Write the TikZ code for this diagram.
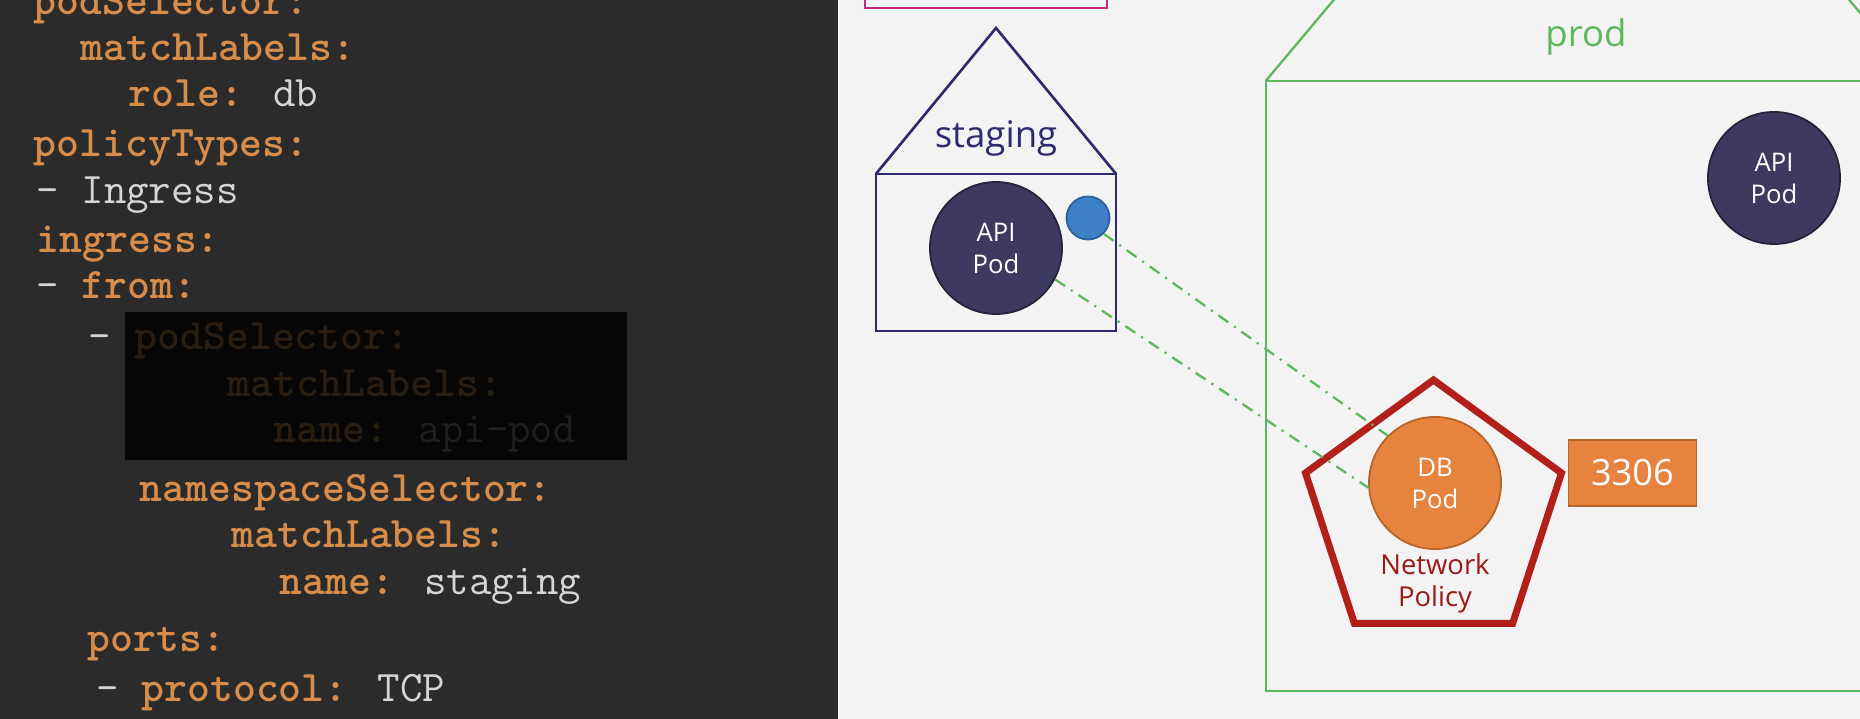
\documentclass[tikz,border=0pt]{standalone}
\usepackage{fontspec}
\setmainfont{Open Sans}
\usetikzlibrary{positioning,shapes.geometric}
\definecolor{panelbg}{HTML}{2B2B2B}
\definecolor{keyc}{HTML}{D88C4A}
\definecolor{valc}{HTML}{D6D6D6}
\definecolor{hidebg}{HTML}{060606}
\definecolor{hidekey}{HTML}{2A1D12}
\definecolor{hideval}{HTML}{1F1F1F}
\definecolor{slidebg}{HTML}{F3F3F3}
\definecolor{nspink}{HTML}{C42A80}
\definecolor{nsnavy}{HTML}{2D2A70}
\definecolor{nsgreen}{HTML}{5CB85C}
\definecolor{podfill}{HTML}{3E3A5F}
\definecolor{podline}{HTML}{25223B}
\definecolor{dotfill}{HTML}{3C7FC6}
\definecolor{dotline}{HTML}{2B5E9A}
\definecolor{polred}{HTML}{B3201B}
\definecolor{poltext}{HTML}{9A1A15}
\definecolor{dbfill}{HTML}{E5833F}
\definecolor{dbline}{HTML}{B86428}
\newcommand{\ykey}[1]{\textcolor{keyc}{\bfseries #1}}
\newcommand{\yval}[1]{\textcolor{valc}{#1}}
\newcommand{\hval}[1]{\textcolor{hideval}{\mdseries #1}}
\tikzset{
  code/.style={anchor=base west,inner sep=0pt,text=valc,
    font=\ttfamily\fontsize{12.4}{14}\selectfont},
  hidden/.style={code,text=hidekey,font=\ttfamily\bfseries\fontsize{12.4}{14}\selectfont},
  nslabel/.style={anchor=base,inner sep=0pt,font=\fontsize{10.4}{12}\selectfont},
  nsbox/.style={draw,inner sep=0pt,outer sep=0pt},
  pod/.style={circle,draw=podline,fill=podfill,line width=0.5pt,
    minimum size=1.32cm,inner sep=0pt,text=white,align=center,
    font=\fontsize{7.3}{9.1}\selectfont},
  dbpod/.style={pod,draw=dbline,fill=dbfill},
  portdot/.style={circle,draw=dotline,fill=dotfill,line width=0.5pt,
    minimum size=0.43cm,inner sep=0pt},
  policy/.style={regular polygon,regular polygon sides=5,draw=polred,
    line width=2pt,minimum size=2.69cm,inner sep=0pt,outer sep=0pt},
  port/.style={rectangle,draw=dbline,fill=dbfill,line width=0.5pt,
    minimum width=1.28cm,minimum height=0.66cm,inner sep=0pt,text=white,
    font=\fontsize{10.3}{12}\selectfont},
  traffic/.style={draw=nsgreen,line width=0.65pt,
    dash pattern=on 3.4pt off 2pt on 0.6pt off 2pt}
}

\begin{document}
\begin{tikzpicture}[x=0.01cm,y=-0.01cm]
  \useasboundingbox (0,0) rectangle (1860,719);
  \clip (0,0) rectangle (1860,719);
  \fill[slidebg] (838,0) rectangle (1860,719);
  \fill[panelbg] (0,0) rectangle (838,719);

  % yaml
  \node[code] (l1) at (33,15) {\ykey{podSelector:}};
  \node[code] (l2) at (80,61) {\ykey{matchLabels:}};
  \node[code] (l3) at (128,107) {\ykey{role:} db};
  \node[code] (l4) at (33,157) {\ykey{policyTypes:}};
  \node[code] (l5) at (36,204) {- Ingress};
  \node[code] (l6) at (36,253) {\ykey{ingress:}};
  \node[code] (l7) at (36,299) {- \ykey{from:}};
  \fill[hidebg] (125,312) rectangle (627,460);
  \node[code] (l8) at (88,350) {-};
  \node[hidden] (l8b) at (134,350) {podSelector:};
  \node[hidden] (l9) at (227,397) {matchLabels:};
  \node[hidden] (l10) at (273,443) {name: \hval{api-pod}};
  \node[code] (l11) at (139,502) {\ykey{namespaceSelector:}};
  \node[code] (l12) at (231,548) {\ykey{matchLabels:}};
  \node[code] (l13) at (279,595) {\ykey{name:} staging};
  \node[code] (l14) at (87,652) {\ykey{ports:}};
  \node[code] (l15) at (96,702) {- \ykey{protocol:} TCP};

  % namespaces
  \draw[nspink,line width=0.6pt] (865,-40) rectangle (1107,8);
  \node[nsbox,draw=nsnavy,line width=0.75pt,minimum width=2.4cm,minimum height=1.57cm]
    (stgbox) at (996,252.5) {};
  \coordinate (stgtop) at (996,28);
  \draw[nsnavy,line width=0.75pt] (stgbox.north west) -- (stgtop) -- (stgbox.north east);
  \node[nslabel,text=nsnavy] (stglabel) at (996,148) {staging};
  \node[nsbox,draw=nsgreen,line width=0.65pt,minimum width=6.51cm,minimum height=6.10cm]
    (prodbox) at (1591.5,386) {};
  \coordinate (prodtop) at (1591.5,-307);
  \draw[nsgreen,line width=0.65pt] (prodbox.north west) -- (prodtop) -- (prodbox.north east);
  \node[nslabel,text=nsgreen] (prodlabel) at (1586,47) {prod};

  % pods
  \node[pod] (stgapi) at (996,248) {API\\Pod};
  \node[portdot] (stgdot) at (1088,218) {};
  \node[pod] (prodapi) at (1774,178) {API\\Pod};
  \node[policy] (policy) at (1433.5,514.6) {};
  \node[dbpod] (db) at (1435,483) {DB\\Pod};
  \node[text=poltext,align=center,inner sep=0pt,font=\fontsize{7.8}{9.1}\selectfont,
    below=0.03cm of db] (pollabel) {Network\\Policy};
  \node[port,right=0.06cm of policy.corner 5] (port) {3306};

  \path[traffic] (stgdot.-45) -- (db.135);
  \path[traffic] (stgapi.-28) -- (db.184);
\end{tikzpicture}
\end{document}
